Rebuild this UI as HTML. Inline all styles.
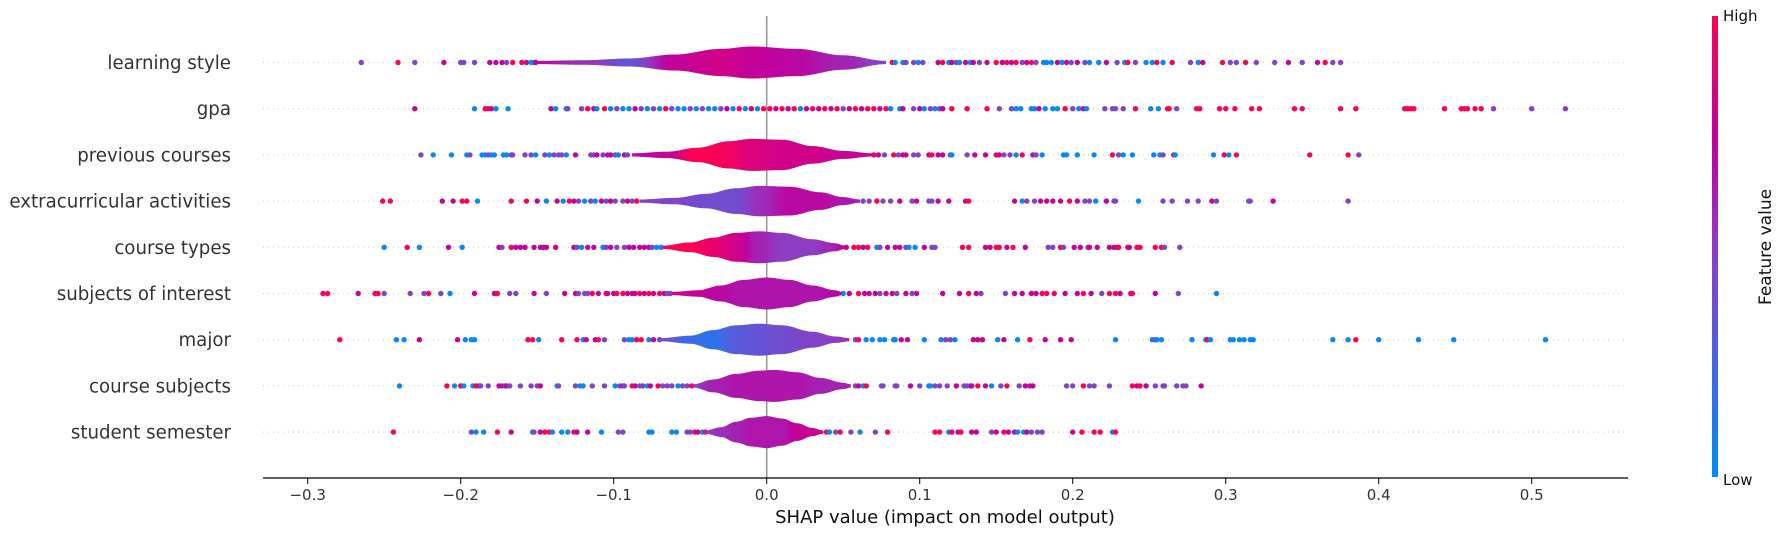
<!DOCTYPE html>
<html><head><meta charset="utf-8"><title>SHAP summary</title>
<style>
html,body{margin:0;padding:0;background:#fff;}
svg{display:block;font-family:"DejaVu Sans","Liberation Sans",sans-serif;}
</style></head>
<body>
<svg id="chart" width="1785" height="536" viewBox="0 0 1785 536" xmlns="http://www.w3.org/2000/svg">
<defs>
<linearGradient id="cbar" x1="0" y1="1" x2="0" y2="0">
<stop offset="0" stop-color="#008bfb"/><stop offset="0.25" stop-color="#4a63e0"/>
<stop offset="0.5" stop-color="#8e3cc2"/><stop offset="0.72" stop-color="#bd03a0"/>
<stop offset="1" stop-color="#ff0052"/></linearGradient>
</defs>
<g id="grid"></g>
<line x1="766.7" y1="16" x2="766.7" y2="478" stroke="#999" stroke-width="1.6"/>
<g id="marks"></g>
<g id="ylabels"></g>
<line x1="263" y1="478" x2="1628" y2="478" stroke="#000" stroke-width="1.2"/>
<g id="xticks"></g>
<text x="945" y="523" font-size="18" text-anchor="middle" fill="#111">SHAP value (impact on model output)</text>
<rect x="1712" y="16" width="6" height="461" fill="url(#cbar)"/>
<text x="1723" y="21" font-size="15" fill="#111">High</text>
<text x="1723" y="485" font-size="15" fill="#111">Low</text>
<text x="0" y="0" font-size="17" fill="#111" text-anchor="middle" transform="translate(1771,247) rotate(-90)">Feature value</text>
</svg>
<script>
const features = ["learning style","gpa","previous courses","extracurricular activities","course types","subjects of interest","major","course subjects","student semester"];
const xTicks = [-0.3,-0.2,-0.1,0.0,0.1,0.2,0.3,0.4,0.5];
const xTickLabels = ["\u22120.3","\u22120.2","\u22120.1","0.0","0.1","0.2","0.3","0.4","0.5"];

const ls_v = [-.265,-.241,-.230,-.211,-.200,-.198,-.191,-.181,-.177,-.173,-.170,-.166,-.160,-.157,-.154,-.152,-.151,.082,.084,.089,.091,.096,.099,.102,.112,.115,.119,.121,.124,.126,.130,.133,.135,.139,.144,.150,.154,.157,.160,.163,.167,.170,.173,.176,.181,.183,.186,.190,.193,.196,.199,.203,.208,.211,.217,.222,.229,.234,.236,.241,.248,.252,.255,.259,.265,.277,.282,.285,.298,.303,.307,.313,.320,.332,.341,.350,.360,.365,.370,.375];
const ls_f = "prpmpppmmmprrmbbmrbbppbpmrbmpbmbmpmrmrmrpmrpbbbmbmpmpbbmpbrpbbrbrpbmrpprppmpmrp";
const gpa_v = [-.230,-.191,-.184,-.182,-.180,-.177,-.169,-.141,-.138,-.131,-.130,-.121,-.117,-.113,-.111,-.106,-.102,-.098,-.094,-.090,-.086,-.082,-.078,-.074,-.070,-.066,-.062,-.058,-.054,-.050,-.046,-.042,-.038,-.034,-.030,-.026,-.022,-.018,-.014,-.010,-.006,-.002,.002,.006,.010,.014,.018,.022,.026,.030,.034,.038,.042,.046,.050,.054,.058,.062,.066,.070,.074,.078,.081,.087,.089,.096,.100,.103,.107,.110,.113,.115,.121,.131,.144,.152,.160,.163,.166,.173,.175,.178,.182,.187,.190,.195,.200,.204,.207,.209,.221,.226,.228,.233,.241,.251,.256,.262,.263,.268,.281,.283,.296,.300,.306,.317,.322,.345,.350,.375,.385,.417,.419,.421,.423,.443,.454,.456,.458,.463,.467,.475,.500,.522];
const gpa_f = "mbrrmbbmbbpprmbrbpbbmpbpbrpbbpbpbbpmbrbmbrrmrmrbmrmrmrpmrmrrmrbbmpmbpbpmrrrppbbbbmbbbrpbmbpppprbbrrprrrrrrrrrrrrrrrrrrrrr";
const pc_v = [-.226,-.218,-.206,-.196,-.194,-.186,-.184,-.182,-.180,-.178,-.172,-.170,-.167,-.166,-.158,-.154,-.151,-.145,-.142,-.139,-.136,-.134,-.131,-.125,-.115,-.113,-.111,-.107,-.104,-.102,-.099,-.097,-.093,-.091,.070,.073,.077,.083,.086,.089,.091,.096,.099,.106,.108,.112,.115,.120,.121,.131,.136,.143,.150,.152,.155,.159,.163,.167,.174,.176,.180,.194,.196,.203,.214,.226,.230,.233,.239,.253,.257,.259,.266,.267,.292,.299,.302,.307,.355,.380,.387];
const pc_f = "pbbbpbbpbbbbppppbpbpppbmppmpmmpbmprmprpmmppmrmmpbpmmrmppbrmpbbbbbrpbbbbprbbrbrrr";
const ea_v = [-.251,-.246,-.212,-.205,-.199,-.196,-.189,-.167,-.157,-.150,-.144,-.137,-.133,-.129,-.126,-.123,-.119,-.115,-.112,-.108,-.105,-.102,-.099,-.094,-.091,-.088,-.085,.063,.067,.072,.076,.081,.087,.095,.098,.106,.108,.112,.119,.130,.132,.162,.167,.170,.175,.179,.183,.187,.192,.198,.203,.208,.211,.215,.222,.227,.228,.243,.259,.265,.275,.282,.291,.294,.315,.316,.331,.380];
const ea_f = "rrmmrrbrrmbmbrmpbpbmpmppmprpprppmpmppmmmrmbppmmmmrmppbmppbppppmpppm";
const ct_v = [-.250,-.235,-.227,-.208,-.199,-.175,-.173,-.167,-.164,-.161,-.158,-.152,-.148,-.146,-.144,-.138,-.126,-.124,-.121,-.117,-.113,-.107,-.105,-.102,-.098,-.093,-.090,-.087,-.083,-.080,-.077,-.075,-.072,-.069,.052,.057,.060,.063,.066,.072,.074,.079,.084,.087,.091,.093,.097,.103,.108,.110,.128,.132,.143,.146,.150,.152,.157,.161,.169,.184,.187,.192,.194,.201,.205,.210,.211,.216,.224,.227,.229,.230,.236,.237,.242,.244,.254,.258,.260,.270];
const ct_f = "brbmbmprmmmmmmmmmpbmmbpmppmmmmmpbbmrrmrbpmmmpbbmpprrmmrrmrmpprpmmpmmmmmrrmrrrrp";
const si_v = [-.290,-.287,-.267,-.256,-.254,-.250,-.233,-.224,-.221,-.213,-.207,-.191,-.178,-.176,-.168,-.164,-.152,-.144,-.132,-.125,-.123,-.119,-.117,-.114,-.110,-.105,-.104,-.100,-.098,-.094,-.091,-.088,-.086,-.083,-.080,-.077,-.074,-.070,-.067,-.065,-.063,.050,.054,.060,.064,.067,.071,.074,.078,.082,.085,.091,.095,.098,.115,.126,.132,.137,.140,.156,.162,.167,.173,.176,.180,.183,.188,.195,.203,.207,.212,.219,.224,.228,.231,.238,.239,.254,.269,.294];
const si_f = "rrmrrppprpbmmrppmpmmppprmrmmrrmmmrmrmrmppbmrmmmpmmpmpmmmrmppmmmmrrrmmrmprrmmrmpbpm";
const mj_v = [-.279,-.242,-.237,-.227,-.202,-.197,-.193,-.191,-.156,-.153,-.149,-.134,-.124,-.120,-.118,-.112,-.110,-.106,-.093,-.090,-.088,-.085,-.082,-.077,-.074,-.070,.058,.060,.065,.069,.074,.077,.083,.084,.088,.092,.103,.114,.117,.120,.123,.135,.138,.141,.151,.155,.164,.172,.182,.192,.199,.228,.252,.254,.255,.258,.278,.287,.288,.290,.303,.305,.309,.312,.316,.318,.370,.380,.385,.400,.426,.449,.509];
const mj_f = "rbbmmbbbrrbrrbmmrppbbrrbmpprbbbbbbmmbbppbmmmbmbrmmmbbpbbbbrbbbbbbbbbrbbbb";
const cs_v = [-.240,-.209,-.204,-.200,-.198,-.192,-.190,-.188,-.187,-.182,-.175,-.173,-.171,-.170,-.168,-.161,-.154,-.150,-.148,-.137,-.136,-.125,-.122,-.120,-.114,-.106,-.099,-.096,-.094,-.093,-.088,-.086,-.083,-.081,-.078,-.076,-.071,-.068,-.065,-.062,-.058,-.055,-.052,-.049,.058,.060,.063,.065,.075,.076,.084,.085,.094,.100,.106,.107,.110,.113,.118,.124,.129,.131,.133,.134,.138,.143,.147,.153,.157,.165,.169,.172,.174,.196,.200,.207,.211,.214,.224,.239,.242,.244,.248,.254,.259,.260,.268,.272,.274,.284];
const cs_f = "brbrbbrmppmmpmppppmbppbbppbpmprmppbmrpppbpprpmbrppppmpbbpppmpppmrmbprpmmmpprppprmrmppppppmp";
const ss_v = [-.244,-.193,-.190,-.185,-.176,-.167,-.153,-.152,-.148,-.145,-.142,-.140,-.134,-.130,-.126,-.124,-.117,-.108,-.097,-.094,-.077,-.075,-.062,-.059,-.052,-.050,-.047,-.045,-.042,-.040,.039,.041,.045,.048,.055,.061,.071,.079,.110,.113,.119,.121,.125,.127,.134,.137,.147,.150,.155,.158,.162,.164,.168,.170,.173,.177,.180,.200,.206,.214,.218,.226,.228];
const ss_f = "rpbbrmbpmrrbbbrmmbppbbbbpprmbrrbprpbprrrbrmrmmpmrmmbbmpppmrrrbr";

const ls_vx = [-.15,-.12,-.09,-.06,-.03,-.01,.02,.05,.078];
const ls_vd = [.1,.14,.25,.5,.85,1,.85,.45,.1];
const ls_vc = [.7,.55,.35,.75,.8,.75,.7,.6,.45];
const pc_vx = [-.088,-.065,-.045,-.025,-.01,.01,.03,.05,.069];
const pc_vd = [.1,.2,.45,.85,1,.95,.55,.25,.1];
const pc_vc = [.7,.75,1,.95,.85,.8,.8,.75,.75];
const ea_vx = [-.083,-.06,-.04,-.02,-.005,.015,.035,.05,.061];
const ea_vd = [.1,.2,.45,.8,.95,.9,.55,.25,.1];
const ea_vc = [.45,.45,.4,.4,.55,.7,.7,.65,.6];
const ct_vx = [-.068,-.05,-.035,-.02,-.005,.01,.03,.045,.051];
const ct_vd = [.1,.3,.6,.9,1,.9,.5,.25,.1];
const ct_vc = [1,1,.9,.8,.6,.5,.5,.6,.8];
const si_vx = [-.062,-.045,-.03,-.015,0,.015,.03,.045,.049];
const si_vd = [.1,.2,.5,.85,1,.85,.5,.2,.1];
const si_vc = [.8,.75,.7,.65,.65,.65,.65,.7,.75];
const mj_vx = [-.069,-.05,-.035,-.02,-.005,.01,.03,.045,.054];
const mj_vd = [.1,.25,.6,.9,1,.9,.5,.2,.1];
const mj_vc = [.4,.2,.15,.3,.35,.4,.45,.5,.55];
const cs_vx = [-.048,-.035,-.02,-.005,.005,.02,.035,.05,.055];
const cs_vd = [.1,.4,.75,.95,1,.85,.5,.2,.1];
const cs_vc = [.5,.6,.65,.65,.65,.65,.6,.6,.6];
const ss_vx = [-.04,-.03,-.02,-.01,0,.01,.02,.03,.037];
const ss_vd = [.1,.3,.65,.9,1,.85,.55,.25,.1];
const ss_vc = [.5,.55,.6,.65,.65,.65,.75,.8,.8];

const rowDots = [[ls_v,ls_f],[gpa_v,gpa_f],[pc_v,pc_f],[ea_v,ea_f],[ct_v,ct_f],[si_v,si_f],[mj_v,mj_f],[cs_v,cs_f],[ss_v,ss_f]];
const rowViolins = [[ls_vx,ls_vd,ls_vc],null,[pc_vx,pc_vd,pc_vc],[ea_vx,ea_vd,ea_vc],[ct_vx,ct_vd,ct_vc],[si_vx,si_vd,si_vc],[mj_vx,mj_vd,mj_vc],[cs_vx,cs_vd,cs_vc],[ss_vx,ss_vd,ss_vc]];

const NS="http://www.w3.org/2000/svg";
const X0=766.7, PXU=1530, XL=263, XR=1628;
function xs(v){return X0+v*PXU;}
function ys(i){return 62.5+i*46.2;}
const codeVal={b:0.03,p:0.45,m:0.75,r:1};
const stops=[[0,[0,139,251]],[0.25,[74,99,224]],[0.5,[142,60,194]],[0.72,[189,3,160]],[1,[255,0,82]]];
function cmap(t){t=Math.max(0,Math.min(1,t));for(let k=1;k<stops.length;k++){if(t<=stops[k][0]){const a=stops[k-1],b=stops[k];const f=(t-a[0])/(b[0]-a[0]);const c=a[1].map((q,j)=>Math.round(q+(b[1][j]-q)*f));return "rgb("+c.join(",")+")";}}return "rgb(255,0,82)";}
function mk(tag,attrs){const e=document.createElementNS(NS,tag);for(const k in attrs)e.setAttribute(k,attrs[k]);return e;}

const grid=document.getElementById('grid'), marks=document.getElementById('marks'), yl=document.getElementById('ylabels'), xt=document.getElementById('xticks');
features.forEach((f,i)=>{
  const y=ys(i);
  const g=mk('line',{x1:XL,y1:y,x2:XR,y2:y,stroke:'#ccc','stroke-width':1,'stroke-dasharray':'1,4'});
  
  
  grid.appendChild(g);
  const t=mk('text',{x:231,y:y+6.5,'font-size':18.2,'text-anchor':'end',fill:'#333'});
  t.textContent=f;
  
  
  yl.appendChild(t);
  const row=mk('g',{});
  
  
  marks.appendChild(row);
  const [vals,codes]=rowDots[i];
  vals.forEach((v,k)=>{
    const c=mk('circle',{cx:xs(v).toFixed(1),cy:y,r:2.7,fill:cmap(codeVal[codes[k]]||0.5)});
    
    
    row.appendChild(c);
  });
  const vio=rowViolins[i];
  if(vio){
    const [vx,vd,vc]=vio;
    const vg=mk('g',{});
    
    
    row.appendChild(vg);
    const H=16;
    function interp(arr,xv){for(let k=1;k<vx.length;k++){if(xv<=vx[k]){const f=(xv-vx[k-1])/(vx[k]-vx[k-1]);const s=(1-Math.cos(Math.PI*f))/2;return arr[k-1]+(arr[k]-arr[k-1])*s;}}return arr[arr.length-1];}
    const px0=xs(vx[0]),px1=xs(vx[vx.length-1]);
    for(let p=px0;p<px1;p+=2){
      const a=(p-X0)/PXU,b=(Math.min(p+2.4,px1)-X0)/PXU;
      const wa=interp(vd,a)*H,wb=interp(vd,b)*H;
      const pb=Math.min(p+2.4,px1);
      const poly=mk('polygon',{points:`${p},${y-wa} ${pb},${y-wb} ${pb},${y+wb} ${p},${y+wa}`,fill:cmap(interp(vc,(a+b)/2))});
      
      
      vg.appendChild(poly);
    }
  }
});
xTicks.forEach((v,k)=>{
  const x=xs(v);
  const l=mk('line',{x1:x,y1:478,x2:x,y2:484,stroke:'#000','stroke-width':1});
  
  
  xt.appendChild(l);
  const t=mk('text',{x:x,y:500,'font-size':15,'text-anchor':'middle',fill:'#333'});
  t.textContent=xTickLabels[k];
  
  
  xt.appendChild(t);
});
</script>
</body></html>
